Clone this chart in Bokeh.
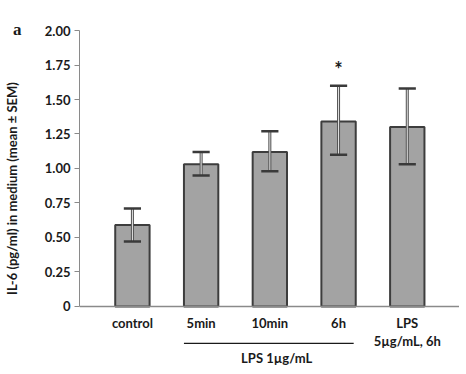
from bokeh.plotting import figure
from bokeh.models import (ColumnDataSource, FixedTicker, Span, Range1d, LinearAxis)
from bokeh.core.properties import value
from bokeh.embed import file_html
from bokeh.resources import INLINE

# ---- data ----
categories = ["control", "5min", "10min", "6h", "LPS\n5µg/mL, 6h"]
means = [0.59, 1.03, 1.12, 1.34, 1.30]
err_low = [0.47, 0.95, 0.98, 1.10, 1.03]
err_high = [0.71, 1.12, 1.27, 1.60, 1.58]
star_cats = [3]
star_y = [1.72]
y_ticks = [0, 0.25, 0.5, 0.75, 1.0, 1.25, 1.5, 1.75, 2.0]
group_label = "LPS 1µg/mL"
y_title = "IL-6 (pg/ml) in medium (mean ± SEM)"
panel_letter = "a"
panel_letter_tick = 2.01

FONT = "Lato"
xs = list(range(len(categories)))

p = figure(frame_width=380, frame_height=356, output_backend="svg",
           toolbar_location=None,
           x_range=Range1d(-0.77, 4.76), y_range=Range1d(-0.435, 2.145),
           min_border_left=70, min_border_right=0, min_border_top=10,
           min_border_bottom=0)
p.outline_line_color = None
p.xgrid.visible = False
p.ygrid.visible = False
p.xaxis.visible = False

# inner y axis: ticks and numbers
ya = p.yaxis[0]
ya.bounds = (0, 2)
ya.ticker = FixedTicker(ticks=y_ticks)
ya.major_label_overrides = {t: ("0" if t == 0 else f"{t:.2f}") for t in y_ticks}
ya.minor_tick_line_color = None
ya.major_tick_out = 5
ya.major_tick_in = 0
ya.major_tick_line_color = "#8a8a8a"
ya.axis_line_color = "#8a8a8a"
ya.major_label_standoff = 4
ya.major_label_text_font = FONT
ya.major_label_text_font_style = "bold"
ya.major_label_text_font_size = "13px"
ya.major_label_text_color = "#1a1a1a"

# outer y axis: panel letter and axis title
yb = LinearAxis(bounds=(-0.05, 2.05),
                ticker=FixedTicker(ticks=[panel_letter_tick]),
                major_label_overrides={panel_letter_tick: panel_letter})
yb.axis_line_color = None
yb.major_tick_line_color = None
yb.minor_tick_line_color = None
yb.major_tick_out = 0
yb.major_tick_in = 0
yb.major_label_standoff = 20
yb.major_label_text_font = "Liberation Serif"
yb.major_label_text_font_style = "bold"
yb.major_label_text_font_size = "17px"
yb.major_label_text_color = "#1a1a1a"
yb.axis_label = y_title
yb.axis_label_text_font = FONT
yb.axis_label_text_font_style = "bold"
yb.axis_label_text_font_size = "13px"
yb.axis_label_text_color = "#1a1a1a"
yb.axis_label_standoff = -10
p.add_layout(yb, "left")

src = ColumnDataSource(dict(x=xs, top=means, lo=err_low, hi=err_high,
                            label=categories))

# bars
p.vbar(x="x", top="top", width=0.5, bottom=0, source=src,
       fill_color="#a3a3a3", line_color="#3d3d3d", line_width=2)

# baseline (x axis line)
p.add_layout(Span(location=0, dimension="width", line_color="#8a8a8a",
                  line_width=1.5))

# error bars
p.segment(x0="x", y0="lo", x1="x", y1="hi", source=src,
          line_color="#505050", line_width=3)
p.segment(x0="x", y0="lo", x1="x", y1="hi", source=src,
          line_color="#e6e6e6", line_width=1)
cap = 0.125
src_caps = ColumnDataSource(dict(
    x0=[x - cap for x in xs], x1=[x + cap for x in xs], lo=err_low, hi=err_high))
p.segment(x0="x0", y0="hi", x1="x1", y1="hi", source=src_caps,
          line_color="#3a3a3a", line_width=2.5)
p.segment(x0="x0", y0="lo", x1="x1", y1="lo", source=src_caps,
          line_color="#3a3a3a", line_width=2.5)

# significance star
p.text(x=star_cats, y=star_y, text=["*"], text_align="center",
       text_baseline="middle", text_font=value(FONT), text_font_style="bold",
       text_font_size="20px", text_color="#1a1a1a")

# category labels
p.text(x="x", y=-0.065, text="label", source=src, text_align="center",
       text_baseline="top", text_font=value(FONT), text_font_style="bold",
       text_font_size="13px", text_color="#1a1a1a", text_line_height=1.12)

# group bracket line and label
p.segment(x0=[0.75], y0=[-0.268], x1=[3.22], y1=[-0.268],
          line_color="#1a1a1a", line_width=1.3)
p.text(x=[2.1], y=[-0.377], text=[group_label], text_align="center",
       text_baseline="middle", text_font=value(FONT), text_font_style="bold",
       text_font_size="13px", text_color="#1a1a1a")

open("out.html", "w").write(file_html(p, INLINE))
